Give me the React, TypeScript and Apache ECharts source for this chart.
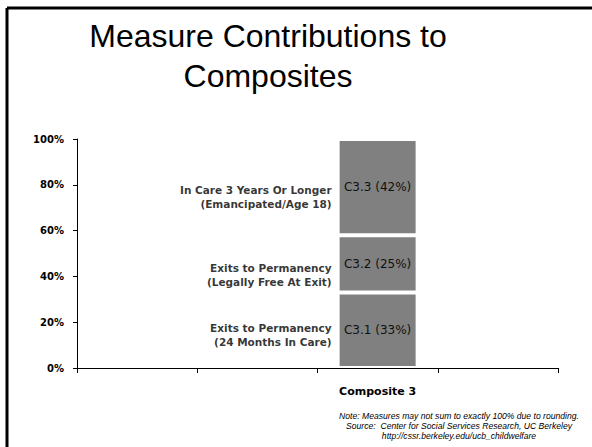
import React, { useEffect, useRef } from "react";
import * as echarts from "echarts";

const categories = ["", "", "Composite 3", ""];
const measureCodes = ["C3.1", "C3.2", "C3.3"];
const measureShares = [33, 25, 42];
const measureNames = [
  "Exits to Permanency\n(24 Months In Care)",
  "Exits to Permanency\n(Legally Free At Exit)",
  "In Care 3 Years Or Longer\n(Emancipated/Age 18)",
];
const yTicks = [0, 20, 40, 60, 80, 100];
const titleText = "Measure Contributions to\nComposites";
const noteLines = [
  "Note: Measures may not sum to exactly 100% due to rounding.",
  "Source:  Center for Social Services Research, UC Berkeley",
  "http://cssr.berkeley.edu/ucb_childwelfare",
];

const labelOffsets = [5, 11, 10];
const compIndex = 2;

export default function App() {
  const ref = useRef<HTMLDivElement>(null);
  useEffect(() => {
    if (!ref.current) return;
    const chart = echarts.init(ref.current, undefined, { renderer: "svg" });
    const barSeries = measureCodes.map((code, i) => ({
      name: code,
      type: "bar",
      stack: "total",
      barWidth: 80,
      data: categories.map((_, j) => (j === compIndex ? measureShares[i] : null)),
      itemStyle: { color: "#808080", borderColor: "#ffffff", borderWidth: 2 },
      label: {
        show: true,
        position: "inside",
        formatter: (p: any) => `${code} (${p.value}%)`,
        color: "#111",
        fontFamily: "DejaVu Sans",
        fontSize: 12,
      },
    }));
    let cum = 0;
    const mids = measureShares.map((v) => {
      const m = cum + v / 2;
      cum += v;
      return m;
    });
    const nameSeries = {
      type: "scatter",
      symbolSize: 0,
      silent: true,
      data: mids.map((m, i) => ({
        value: [categories[compIndex], m],
        label: {
          show: true,
          position: "left",
          distance: 46,
          offset: [0, labelOffsets[i]],
          formatter: measureNames[i],
          color: "#000",
          fontFamily: "DejaVu Sans",
          fontWeight: "bold",
          fontSize: 10.5,
          lineHeight: 14,
          align: "right",
        },
      })),
    };
    chart.setOption({
      animation: false,
      backgroundColor: "#ffffff",
      title: [
        {
          text: titleText,
          left: 263,
          top: 11,
          textAlign: "center",
          textStyle: {
            fontFamily: "Liberation Sans",
            fontWeight: "normal",
            fontSize: 32,
            lineHeight: 40,
            color: "#000",
            align: "center",
          },
        },
        {
          text: noteLines.join("\n"),
          left: 454,
          top: 406,
          textAlign: "center",
          textStyle: {
            fontFamily: "Liberation Sans",
            fontStyle: "italic",
            fontWeight: "normal",
            fontSize: 8.6,
            lineHeight: 10,
            color: "#000",
            align: "center",
          },
        },
      ],
      graphic: [
        { type: "line", shape: { x1: 7, y1: 8, x2: 592, y2: 8 }, style: { stroke: "#000", lineWidth: 3 } },
        { type: "line", shape: { x1: 7, y1: 8, x2: 7, y2: 447 }, style: { stroke: "#000", lineWidth: 3 } },
      ],
      grid: { left: 77, right: 34, top: 139, bottom: 79 },
      xAxis: {
        type: "category",
        data: categories,
        axisLine: { lineStyle: { color: "#000", width: 1 } },
        axisTick: { show: true, length: 5, lineStyle: { color: "#000" } },
        axisLabel: {
          margin: 18,
          color: "#000",
          fontFamily: "DejaVu Sans",
          fontWeight: "bold",
          fontSize: 11,
        },
      },
      yAxis: {
        type: "value",
        min: yTicks[0],
        max: yTicks[yTicks.length - 1],
        interval: 20,
        splitLine: { show: false },
        axisLine: { show: true, lineStyle: { color: "#000", width: 1 } },
        axisTick: { show: true, length: 4, lineStyle: { color: "#000" } },
        axisLabel: {
          formatter: "{value}%",
          margin: 13,
          color: "#000",
          fontFamily: "DejaVu Sans",
          fontWeight: "bold",
          fontSize: 10,
        },
      },
      series: [...barSeries, nameSeries],
    });
    return () => chart.dispose();
  }, []);
  return (
    <div
      ref={ref}
      style={{ position: "fixed", left: 0, top: 0, width: 592, height: 447, background: "#fff" }}
    />
  );
}
